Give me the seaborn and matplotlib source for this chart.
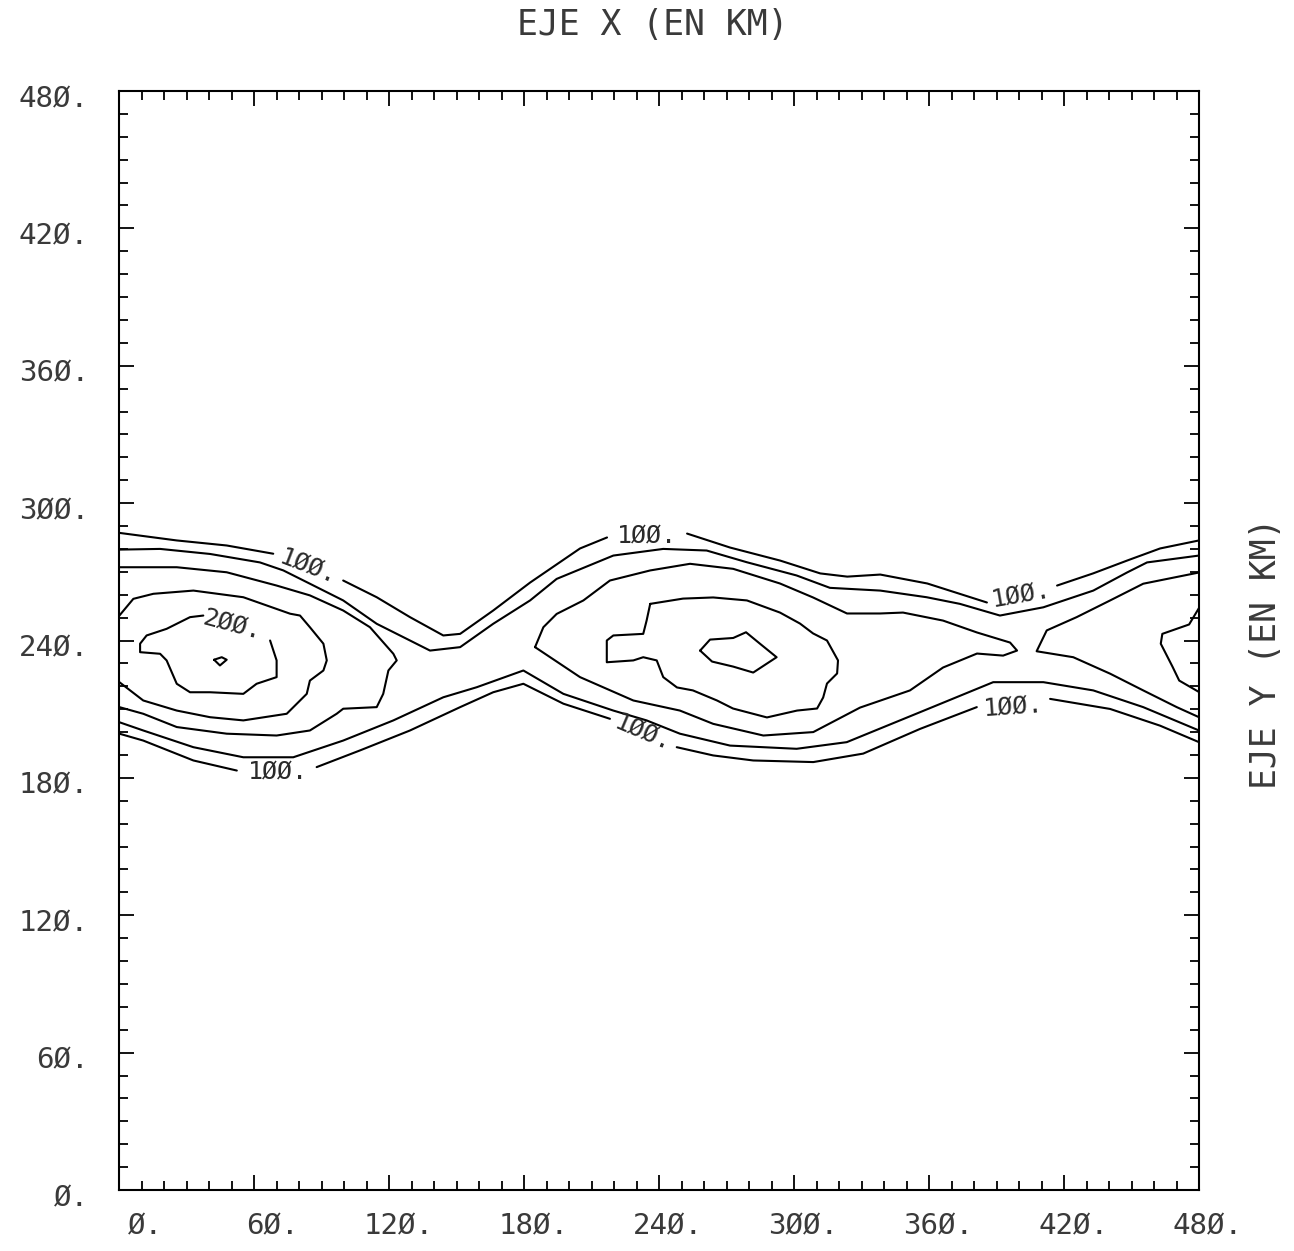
import numpy as np
import pandas as pd
import matplotlib
matplotlib.use("Agg")
import matplotlib.pyplot as plt
import matplotlib.transforms as mtransforms
from matplotlib.ticker import MultipleLocator, FixedLocator, FixedFormatter
import seaborn as sns

# ---------------- data (km) ----------------
axis_ticks = [0, 60, 120, 180, 240, 300, 360, 420, 480]
axis_tick_labels = ["Ø.", "6Ø.", "12Ø.", "18Ø.", "24Ø.", "3ØØ.", "36Ø.", "42Ø.", "48Ø."]
contour_levels = [100, 125, 150, 175, 200, 225]

# level 100, upper branch (split where the labels sit)
c100_top_a_x = [0, 25.5, 47.7, 68.4]
c100_top_a_y = [287.0, 283.7, 281.5, 277.9]
c100_top_b_x = [99.5, 114.4, 129.2, 144.0, 151.5, 166.2, 182.6, 204.8, 216.8]
c100_top_b_y = [266.2, 258.9, 250.2, 242.2, 242.9, 253.1, 265.3, 280.2, 285.0]
c100_top_c_x = [252.4, 271.5, 293.8, 311.6, 323.6, 338.3, 359.2, 385.7]
c100_top_c_y = [286.7, 280.6, 274.9, 269.3, 267.9, 268.8, 264.9, 256.6]
c100_top_d_x = [416.9, 432.9, 448.0, 462.7, 480]
c100_top_d_y = [264.0, 269.3, 274.9, 280.2, 283.7]

# level 100, lower branch
c100_bot_a_x = [0, 10.6, 32.9, 52.2]
c100_bot_a_y = [199.3, 196.3, 187.6, 183.2]
c100_bot_b_x = [87.7, 107.0, 129.2, 151.5, 166.2, 179.6, 197.4, 218.1]
c100_bot_b_y = [184.7, 192.0, 200.7, 210.9, 217.4, 221.1, 212.4, 205.8]
c100_bot_c_x = [247.8, 264.0, 281.8, 308.5, 330.7, 356.0, 381.2]
c100_bot_c_y = [193.4, 189.8, 187.6, 186.9, 190.6, 201.4, 210.9]
c100_bot_d_x = [413.8, 440.5, 462.7, 480]
c100_bot_d_y = [214.5, 210.1, 202.8, 195.6]

# level 125
c125_top_x = [0, 18.1, 40.3, 62.5, 72.9, 84.7, 99.5, 114.4, 129.2, 138.1, 151.5, 166.2,
              182.6, 194.4, 219.6, 241.8, 261.1, 278.9, 301.1, 315.9, 338.3, 358.9,
              373.7, 391.5, 410.8, 433.0, 448.0, 456.9, 480]
c125_top_y = [279.7, 280.0, 277.8, 274.1, 270.6, 264.8, 257.5, 247.3, 240.0, 235.6, 237.1, 247.3,
              257.5, 266.9, 277.1, 280.0, 279.3, 274.2, 268.4, 263.0, 261.8, 258.9,
              256.0, 250.9, 254.5, 261.8, 269.7, 274.1, 277.1]
c125_bot_x = [0, 10.6, 32.9, 55.1, 77.3, 99.5, 121.8, 144.0, 158.9, 179.6, 197.4, 219.6,
              234.4, 249.2, 271.5, 301.1, 323.4, 356.0, 388.5, 410.8, 433.0, 455.2, 480]
c125_bot_y = [204.3, 200.7, 193.4, 189.0, 189.0, 196.3, 205.1, 215.2, 219.6, 226.9, 216.7, 209.4,
              205.1, 199.3, 194.1, 192.7, 195.6, 208.7, 221.8, 221.8, 218.2, 210.9, 200.7]

# level 150
c150_west_x = [0, 25.5, 47.7, 69.9, 84.7, 99.5, 111.4, 121.8, 123.3, 119.6, 117.3, 114.4,
               99.5, 96.6, 84.7, 69.9, 47.7, 25.5, 10.6, 0]
c150_west_y = [272.0, 272.0, 269.8, 264.0, 259.7, 253.1, 245.8, 234.2, 231.3, 226.9, 216.7, 210.9,
               210.2, 208.0, 200.7, 198.5, 199.3, 202.2, 208.0, 210.9]
c150_mid_x = [184.8, 188.5, 194.4, 206.3, 218.1, 236.0, 253.7, 272.9, 293.7, 308.4, 323.5,
              338.2, 348.4, 366.2, 381.3, 396.0, 399.1, 392.9, 381.3, 366.2, 351.5, 329.3,
              308.5, 286.3, 264.0, 249.2, 228.5, 204.8, 184.8]
c150_mid_y = [237.1, 245.8, 251.6, 257.5, 266.2, 270.6, 273.5, 271.3, 264.9, 258.8, 251.8,
              251.8, 252.2, 248.7, 243.5, 239.1, 235.6, 233.4, 234.3, 228.2, 218.2, 210.7,
              200.0, 198.5, 203.6, 209.4, 213.8, 224.0, 237.1]
c150_east_x = [480, 455.2, 440.5, 425.6, 412.3, 407.8, 424.1, 440.5, 455.2, 470.1, 480]
c150_east_y = [269.7, 264.8, 257.5, 250.2, 244.4, 235.3, 232.7, 225.5, 218.2, 210.9, 206.5]

# level 175
c175_west_x = [0, 6.2, 15.1, 32.9, 55.1, 75.9, 80.3, 84.7, 90.7, 92.2, 90.7, 84.7, 83.3,
               74.4, 55.1, 40.3, 25.5, 10.6, 0]
c175_west_y = [250.9, 258.2, 260.4, 261.8, 258.9, 251.7, 250.9, 245.8, 238.6, 231.3, 226.9,
               222.5, 216.7, 208.0, 205.1, 206.5, 209.4, 213.8, 221.8]
c175_mid_x = [236.0, 250.6, 264.0, 279.0, 293.7, 302.6, 308.4, 314.6, 319.5, 319.1, 314.6,
              312.9, 310.2, 301.3, 287.9, 272.8, 265.7, 255.0, 247.9, 241.8, 238.9, 232.9,
              228.5, 216.7, 216.7, 219.6, 232.9, 234.4, 236.0]
c175_mid_y = [256.0, 258.3, 258.8, 257.5, 252.2, 247.4, 243.1, 240.0, 231.3, 225.6, 221.2,
              215.1, 210.3, 209.4, 206.4, 210.3, 213.8, 218.2, 219.5, 224.0, 231.3, 232.7,
              231.3, 230.5, 240.0, 242.2, 242.9, 248.7, 256.0]
c175_east_x = [480, 475.6, 463.7, 463.0, 468.2, 471.2, 480]
c175_east_y = [254.2, 247.0, 242.9, 238.6, 228.6, 222.5, 217.5]

# level 200
c200_west_x = [67.0, 69.9, 69.9, 61.0, 55.1, 40.3, 31.4, 25.5, 21.0, 18.1, 9.2, 9.2, 12.1,
               21.0, 31.4, 37.3]
c200_west_y = [240.0, 231.3, 224.0, 221.1, 216.7, 217.4, 217.4, 221.1, 231.3, 234.2, 234.9,
               238.6, 242.2, 245.1, 250.2, 250.9]
c200_mid_x = [258.2, 262.6, 272.9, 278.6, 284.8, 292.2, 281.8, 272.9, 263.5, 258.2]
c200_mid_y = [235.6, 240.4, 241.1, 243.6, 238.6, 232.7, 226.0, 228.6, 230.8, 235.6]

# level 225
c225_x = [42.1, 45.5, 47.7, 44.7, 42.1]
c225_y = [231.6, 232.7, 231.6, 229.1, 231.6]

label_values = [100, 100, 100, 100, 100, 100, 200]

# ---------------- assemble ----------------
paths = {
    "100a": (c100_top_a_x, c100_top_a_y), "100b": (c100_top_b_x, c100_top_b_y),
    "100c": (c100_top_c_x, c100_top_c_y), "100d": (c100_top_d_x, c100_top_d_y),
    "100e": (c100_bot_a_x, c100_bot_a_y), "100f": (c100_bot_b_x, c100_bot_b_y),
    "100g": (c100_bot_c_x, c100_bot_c_y), "100h": (c100_bot_d_x, c100_bot_d_y),
    "125a": (c125_top_x, c125_top_y), "125b": (c125_bot_x, c125_bot_y),
    "150a": (c150_west_x, c150_west_y), "150b": (c150_mid_x, c150_mid_y),
    "150c": (c150_east_x, c150_east_y),
    "175a": (c175_west_x, c175_west_y), "175b": (c175_mid_x, c175_mid_y),
    "175c": (c175_east_x, c175_east_y),
    "200a": (c200_west_x, c200_west_y), "200b": (c200_mid_x, c200_mid_y),
    "225a": (c225_x, c225_y),
}
frames = []
for name, (xs, ys) in paths.items():
    frames.append(pd.DataFrame({"x": xs, "y": ys, "path": name,
                                "order": np.arange(len(xs))}))
df = pd.concat(frames, ignore_index=True)

# ---------------- style ----------------
sns.set_theme(style="ticks")
plt.rcParams["font.family"] = ["DejaVu Sans Mono", "DejaVu Sans"]
plt.rcParams["axes.linewidth"] = 1.5

W, H = 1294, 1251
fig = plt.figure(figsize=(W / 100, H / 100), dpi=100, facecolor="white")
ax = fig.add_axes([119.4 / W, 1 - 1190 / H, (1199 - 119.4) / W, (1190 - 91) / H])
ax.set_facecolor("white")

sns.lineplot(data=df, x="x", y="y", units="path", estimator=None, sort=False,
             color="black", linewidth=1.5, legend=False, ax=ax)

ax.set_xlim(0, 480)
ax.set_ylim(0, 480)
ax.set_xlabel("")
ax.set_ylabel("")
for s in ax.spines.values():
    s.set_visible(True)
    s.set_color("black")
    s.set_linewidth(1.5)

ax.xaxis.set_major_locator(FixedLocator(axis_ticks))
ax.yaxis.set_major_locator(FixedLocator(axis_ticks))
ax.xaxis.set_major_formatter(FixedFormatter(axis_tick_labels))
ax.yaxis.set_major_formatter(FixedFormatter(axis_tick_labels))
ax.xaxis.set_minor_locator(MultipleLocator(10))
ax.yaxis.set_minor_locator(MultipleLocator(10))

ax.tick_params(which="both", direction="in", top=True, right=True,
               labeltop=False, labelright=False, color="black", width=1.3)
ax.tick_params(which="major", length=11)
ax.tick_params(which="minor", length=6.5)
ax.tick_params(axis="x", which="major", pad=16, labelsize=21, labelcolor="#3a3a3a")
ax.tick_params(axis="y", which="major", pad=22, labelsize=21, labelcolor="#3a3a3a")

xoff = mtransforms.ScaledTranslation(0.44, 0, fig.dpi_scale_trans)
for lab in ax.get_xticklabels():
    lab.set_horizontalalignment("right")
    lab.set_transform(lab.get_transform() + xoff)
yoff = mtransforms.ScaledTranslation(0, -0.05, fig.dpi_scale_trans)
for lab in ax.get_yticklabels():
    lab.set_transform(lab.get_transform() + yoff)

# contour labels (placement is layout)
label_places = [(84, 272, -21), (234.6, 285.8, 0), (401, 260.3, 10),
                (70.5, 182.6, 0), (233, 199.5, -23), (397.3, 211.0, 4),
                (50, 247, -15)]
for val, (lx, ly, rot) in zip(label_values, label_places):
    txt = f"{val}.".replace("0", "Ø")
    ax.text(lx, ly, txt, ha="center", va="center", rotation=rot,
            rotation_mode="anchor", fontsize=18, color="#2a2a2a")

fig.text(653 / W, 1 - 25 / H, "EJE X (EN KM)", ha="center", va="center",
         fontsize=25, color="#3a3a3a")
fig.text(1266 / W, 1 - 653 / H, "EJE Y (EN KM)", ha="center", va="center",
         rotation=90, fontsize=25, color="#3a3a3a")

fig.savefig("out.png", dpi=100, facecolor="white")
